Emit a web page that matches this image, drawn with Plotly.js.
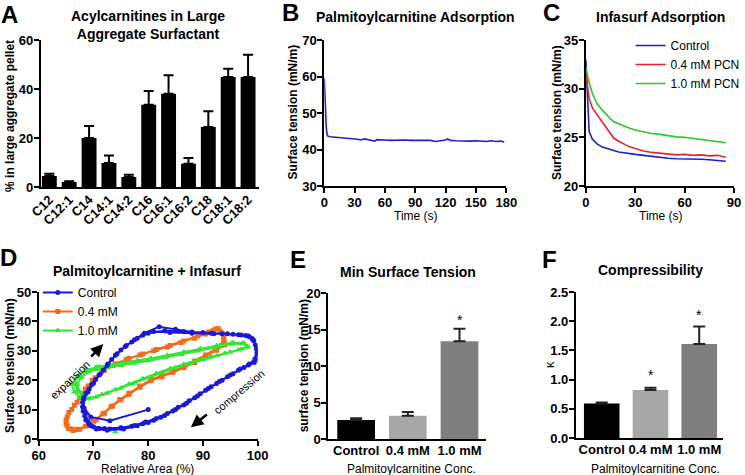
<!DOCTYPE html>
<html><head><meta charset="utf-8">
<script src="https://cdn.plot.ly/plotly-3.0.1.min.js"></script>
<style>html,body{margin:0;padding:0;background:#fff}#chart{width:745px;height:475px}</style>
</head><body><div id="chart"></div>
<script>
// ---------- Panel A: acylcarnitines in large aggregate surfactant ----------
const acylCats = ['C12','C12:1','C14','C14:1','C14:2','C16','C16:1','C16:2','C18','C18:1','C18:2'];
const acylPct  = [4.5, 2.0, 20.0, 9.8, 4.1, 33.6, 38.1, 9.5, 24.5, 44.9, 44.9];
const acylErr  = [0.9, 0.3, 4.9, 3.1, 0.9, 5.6, 7.5, 2.3, 6.4, 3.4, 9.1];

// ---------- Panel B: palmitoylcarnitine adsorption ----------
const pcnTime    = [0,1,2,3,4,6,10,15,20,25,30,33,36,40,45,50,52,55,60,65,70,75,80,85,90,95,100,105,110,115,120,122,125,130,135,140,145,150,155,160,165,170,175,178];
const pcnTension = [59.5,52,46,43.8,43.6,43.5,43.4,43.3,43.2,43.0,43.0,42.8,42.6,42.9,42.6,42.3,42.7,42.6,42.6,42.5,42.6,42.5,42.6,42.5,42.5,42.6,42.4,42.5,42.2,42.4,42.6,42.9,42.5,42.4,42.3,42.4,42.3,42.4,42.3,42.2,42.4,42.2,42.3,42.0];

// ---------- Panel C: Infasurf adsorption ----------
const infTime    = [0,1,2,4,7,10,12,15,17,20,22,25,27,30,35,40,45,50,55,60,65,70,75,80,85];
const infControl = [33.0,29.0,25.6,24.8,24.3,24.0,23.9,23.7,23.6,23.5,23.45,23.4,23.3,23.25,23.15,23.05,22.9,22.85,22.8,22.8,22.75,22.75,22.7,22.65,22.55];
const infPcn04   = [31.6,30.3,29.0,28.0,27.3,26.5,26.1,25.4,24.9,24.6,24.4,24.15,24.0,23.85,23.6,23.45,23.35,23.3,23.2,23.25,23.15,23.2,23.1,23.15,22.95];
const infPcn10   = [32.2,31.4,30.6,29.5,28.4,27.8,27.4,26.9,26.6,26.4,26.2,26.0,25.9,25.75,25.55,25.4,25.3,25.15,25.05,25.0,24.9,24.8,24.7,24.6,24.45];
const infNames   = ['Control','0.4 mM PCN','1.0 mM PCN'];

// ---------- Panel D: surface tension vs relative area loops ----------
const loopNames = ['Control','0.4 mM','1.0 mM'];
const ctrlArea = [80,73,69.5,68.3,68.2,
  69,70,71.2,72.5,74,75.8,77.5,79.3,82,85,88,91.5,94.5,97,98.5,99.3,99.8,100,99.7,
  98.5,96.8,95,93,91,89,87,85,83,81,79,77,75,73,71,69.5,68.6,68.1,68,
  68.6,69.7,71,72.6,74.3,76,78,80,83,86.5,90,93.5,96.5,98.3,99.2,99.8,99.5,
  98.3,96.5,94.5,92.5,90.5,88.5,86.5,84.5,82.3,80,78,75.5,72.5,70.5,69.2,68.4,68,68.2,
  69.2,70.4,71.8,73.3,75,77,79,81,84,88,92,95.5,97.8,99,99.6,99.9,99.4,
  97.5,95.5,93.5,91.5,89.5,87.5,85.5,83.5,81.5,79.5,77.5,75,72,70,69,68.5];
const ctrlTension = [10,6.2,7.5,10.5,13.5,
  16,19,22,25,28.5,31.5,33.8,36,38.2,37.3,36.4,36,35.8,35.4,34.8,33.5,31,29,27,
  25.5,23.8,21.8,19.6,17.2,14.6,12.2,10,8,6.4,5.2,4.3,3.7,3.4,3.6,4.5,6.5,9.5,12.5,
  15.5,18.5,21.8,25.5,29,31.8,34.3,36,36.8,36.6,36.2,35.8,35.5,35,33.6,30.5,27.2,
  25.2,23.4,21.2,18.9,16.6,14,11.6,9.5,7.4,5.6,4.5,3.4,3,3.4,5,7.8,11,14,
  17,20.2,23.5,27,30.3,33,35.3,36.6,36.2,36,35.8,35.6,35.2,34.2,32,29.5,26,
  24.3,22.2,20,17.8,15.4,13,10.8,8.7,7,5.8,4.6,3.8,3.6,4.2,6,8.5];
const pcn04Area = [94,92.5,90.5,88.5,86.5,84.5,82.5,80.5,78.5,76.5,75,73.5,72,70.5,69,67.5,66.3,65.4,65,65.2,66,67,68,
  69,70.3,72,74,76.5,79,81.5,84,86.5,89,91,92.3,93.2,93.8,93.9,
  92.5,90.5,88.5,86.5,84.5,82.5,80.5,78.5,76.5,74.8,73.2,71.7,70,68.5,67,66,65.2,65,65.5,66.5,67.5,
  68.5,69.8,71.5,73.5,76,78.5,81,83.5,86,88.5,90.5,91.8,92.8,93.6,93.8,93.4];
const pcn04Tension = [32,30.2,28,26,24.2,22.6,21.2,19.8,17.6,15.2,13.3,11.2,8.8,6.5,4.6,3.3,2.9,3.6,5.2,7.5,10,12.5,15.5,
  18,20.8,23.4,25.6,27.4,28.9,30.4,31.8,33.3,35,36.4,37.4,36.6,34.6,32.8,
  30.8,28.6,26.5,24.6,23,21.6,20.2,18,15.6,13.4,11,8.5,6,4.3,3.2,3.4,4.5,6.5,9,11.5,14,
  17,20,22.8,25,27,28.6,30,31.3,32.8,34.3,35.7,36.8,37.5,35.8,33.5,31.8];
// first 1.0 mM reading (74 %, 2.5 mN/m) stands alone, then the recorded loops
const pcn10Area = [74,null,68.5,67.5,67,67.8,69,70.5,72.5,75,77.5,80,83,86,89,92,95,97.2,98.2,
  97,95,92.5,90,87.5,85,82.5,80,77.5,75,72.5,70.5,69,67.5,66.5,
  66,67,68.5,70.5,73,75.5,78,80.5,83.5,86.5,89.5,92.5,95.5,97.5,98,
  96.5,94,91.5,89,86.5,84,81.5,79,76.5,74,71.5,69.5,68,67,66.5,67.2,68.8,71];
const pcn10Tension = [2.5,null,14.2,16,18.5,21,22.8,23.6,24.3,25,25.8,26.6,27.6,28.7,29.9,31,32.2,32.5,31.5,
  30.6,29.6,28.3,27,25.6,24.2,22.5,20.8,19,17.3,15.6,14.3,13.6,14.2,16,
  18.5,21,23,24.5,25.2,26,26.8,27.5,28.5,29.6,30.7,31.8,32.8,32.6,31.2,
  30.3,29.2,28,26.8,25.4,24,22.3,20.6,18.7,16.8,15.1,13.9,14.5,16.5,19,21.5,23.6,24.6];

// ---------- Panels E & F ----------
const concCats  = ['Control','0.4 mM','1.0 mM'];
const minST     = [2.6, 3.2, 13.4];
const minSTErr  = [0.25, 0.5, 1.7];
const compKappa = [0.59, 0.82, 1.61];
const compErr   = [0.02, 0.04, 0.30];
const barColors = ['#000000','#a6a6a6','#7f7f7f'];

// ---------- layout helpers ----------
const W = 745, H = 475;
const px = x => x / W, py = y => 1 - y / H;
const FONT = 'Liberation Sans, Arial, Helvetica, sans-serif';
function axis(extra) {
  return Object.assign({
    showline: true, linecolor: '#000', linewidth: 2,
    ticks: 'outside', ticklen: 5, tickwidth: 2, tickcolor: '#000',
    showgrid: false, zeroline: false, fixedrange: true, ticklabelstandoff: -2,
    tickfont: {family: FONT, size: 13, color: '#000', weight: 'bold'}
  }, extra);
}
function txt(x, y, text, o) {
  o = o || {};
  return {xref: 'paper', yref: 'paper', x: px(x), y: py(y), text: text, showarrow: false,
    xanchor: o.xa || 'center', yanchor: o.ya || 'middle', textangle: o.angle || 0, borderpad: 0,
    font: {family: FONT, size: o.size || 12, color: '#000', weight: o.bold ? 'bold' : 'normal'}};
}

const blue = '#1f1fc8', red = '#e0262a', greenC = '#2cc52c';
const dBlue = '#1a1ad6', dOrange = '#f26b1d', dGreen = '#33e633';

const traces = [
  {type: 'bar', x: acylCats, y: acylPct, width: 0.75, marker: {color: '#000'}, xaxis: 'x', yaxis: 'y', showlegend: false,
   error_y: {type: 'data', symmetric: false, array: acylErr, arrayminus: acylErr.map(() => 0), color: '#000', thickness: 2, width: 5}},
  {type: 'scatter', mode: 'lines', x: pcnTime, y: pcnTension, line: {color: blue, width: 1.6}, xaxis: 'x2', yaxis: 'y2', showlegend: false},
  {type: 'scatter', mode: 'lines', name: infNames[0], x: infTime, y: infControl, line: {color: blue, width: 1.6}, xaxis: 'x3', yaxis: 'y3', legend: 'legend'},
  {type: 'scatter', mode: 'lines', name: infNames[1], x: infTime, y: infPcn04, line: {color: red, width: 1.6}, xaxis: 'x3', yaxis: 'y3', legend: 'legend'},
  {type: 'scatter', mode: 'lines', name: infNames[2], x: infTime, y: infPcn10, line: {color: greenC, width: 1.6}, xaxis: 'x3', yaxis: 'y3', legend: 'legend'},
  {type: 'scatter', mode: 'lines+markers', name: loopNames[1], legendrank: 2, x: pcn04Area, y: pcn04Tension, line: {color: dOrange, width: 2},
   marker: {symbol: 'square', size: 5, color: dOrange}, xaxis: 'x4', yaxis: 'y4', legend: 'legend2'},
  {type: 'scatter', mode: 'lines+markers', name: loopNames[2], legendrank: 3, x: pcn10Area, y: pcn10Tension, line: {color: dGreen, width: 2},
   marker: {symbol: 'triangle-up', size: 6, color: dGreen}, xaxis: 'x4', yaxis: 'y4', legend: 'legend2'},
  {type: 'scatter', mode: 'lines+markers', name: loopNames[0], legendrank: 1, x: ctrlArea, y: ctrlTension, line: {color: dBlue, width: 2},
   marker: {symbol: 'circle', size: 5, color: dBlue}, xaxis: 'x4', yaxis: 'y4', legend: 'legend2'},
  {type: 'bar', x: concCats, y: minST, width: 0.73, marker: {color: barColors}, xaxis: 'x5', yaxis: 'y5', showlegend: false,
   error_y: {type: 'data', symmetric: false, array: minSTErr, arrayminus: minSTErr.map(() => 0), color: '#222', thickness: 2, width: 6}},
  {type: 'bar', x: concCats, y: compKappa, width: 0.73, marker: {color: barColors}, xaxis: 'x6', yaxis: 'y6', showlegend: false,
   error_y: {type: 'data', symmetric: false, array: compErr, arrayminus: compErr.map(() => 0), color: '#222', thickness: 2, width: 6}}
];

const legendBase = {xanchor: 'left', yanchor: 'top', bgcolor: 'rgba(0,0,0,0)', borderwidth: 0, tracegroupgap: 0,
  itemclick: false, itemdoubleclick: false, font: {family: FONT, size: 12, color: '#000'}};

const layout = {
  width: W, height: H, margin: {l: 0, r: 0, t: 0, b: 0}, paper_bgcolor: '#fff', plot_bgcolor: 'rgba(0,0,0,0)',
  font: {family: FONT, size: 12, color: '#000'},
  legend: Object.assign({}, legendBase, {x: px(634), y: py(31)}),
  legend2: Object.assign({}, legendBase, {x: px(38), y: py(278), traceorder: 'normal'}),
  xaxis:  axis({domain: [px(41), px(260)], anchor: 'y', type: 'category', range: [-0.43, 10.53], ticks: '', tickangle: -45}),
  yaxis:  axis({domain: [py(187), py(40)], anchor: 'x', range: [0, 60], dtick: 20}),
  xaxis2: axis({domain: [px(326), px(509)], anchor: 'y2', range: [0, 180], dtick: 30}),
  yaxis2: axis({domain: [py(186), py(40)], anchor: 'x2', range: [30, 70], dtick: 10}),
  xaxis3: axis({domain: [px(589), px(738)], anchor: 'y3', range: [0, 90], dtick: 30}),
  yaxis3: axis({domain: [py(186), py(40)], anchor: 'x3', range: [20, 35], dtick: 5}),
  xaxis4: axis({domain: [px(39), px(259)], anchor: 'y4', range: [60, 100], dtick: 10}),
  yaxis4: axis({domain: [py(439), py(292)], anchor: 'x4', range: [0, 50], dtick: 10}),
  xaxis5: axis({domain: [px(330), px(489)], anchor: 'y5', type: 'category', range: [-0.54, 2.52], ticks: ''}),
  yaxis5: axis({domain: [py(439), py(293)], anchor: 'x5', range: [0, 20], dtick: 5}),
  xaxis6: axis({domain: [px(579), px(727)], anchor: 'y6', type: 'category', range: [-0.53, 2.49], ticks: ''}),
  yaxis6: axis({domain: [py(438), py(292)], anchor: 'x6', range: [0, 2.5], dtick: 0.5, tickformat: '.1f'}),
  annotations: [
    // panel letters
    txt(10, 14, 'A', {size: 24, bold: true}),
    txt(292, 12, 'B', {size: 24, bold: true}),
    txt(554, 12, 'C', {size: 24, bold: true}),
    txt(9, 257, 'D', {size: 24, bold: true}),
    txt(300, 259, 'E', {size: 24, bold: true}),
    txt(552, 259, 'F', {size: 24, bold: true}),
    // panel titles
    txt(149, 25, 'Acylcarnitines in Large<br>Aggregate Surfactant', {size: 14, bold: true}),
    txt(418, 17, 'Palmitoylcarnitine Adsorption', {size: 14, bold: true}),
    txt(664, 17, 'Infasurf Adsorption', {size: 14, bold: true}),
    txt(148, 271, 'Palmitoylcarnitine + Infasurf', {size: 14, bold: true}),
    txt(410, 272, 'Min Surface Tension', {size: 14, bold: true}),
    txt(654, 270, 'Compressibility', {size: 14, bold: true}),
    // y axis titles
    txt(10, 116, '% in large aggregate pellet', {angle: -90, bold: true}),
    txt(295, 112, 'Surface tension (mN/m)', {angle: -90, bold: true}),
    txt(560, 112, 'Surface tension (mN/m)', {angle: -90, bold: true}),
    txt(10, 365, 'Surface tension (mN/m)', {angle: -90, bold: true}),
    txt(306, 366, 'surface tension (mN/m)', {angle: -90, bold: true}),
    txt(552, 365, 'κ', {angle: -90, size: 13}),
    // x axis titles
    txt(418, 216, 'Time (s)'),
    txt(665, 216, 'Time (s)'),
    txt(148, 469, 'Relative Area (%)'),
    txt(414, 469, 'Palmitoylcarnitine Conc.'),
    txt(659, 469, 'Palmitoylcarnitine Conc.'),
    // panel D annotations
    txt(70, 380, 'expansion', {angle: -44, size: 11}),
    txt(240, 392, 'compression', {angle: -40, size: 11}),
    {xref: 'x4', yref: 'y4', axref: 'x4', ayref: 'y4', x: 71.8, y: 32.3, ax: 69.3, ay: 27.5, text: '', showarrow: true,
     arrowhead: 2, arrowsize: 1, arrowwidth: 2.5, arrowcolor: '#000'},
    {xref: 'x4', yref: 'y4', axref: 'x4', ayref: 'y4', x: 87.8, y: 4.0, ax: 91.0, ay: 8.75, text: '', showarrow: true,
     arrowhead: 2, arrowsize: 1, arrowwidth: 2.5, arrowcolor: '#000'},
    // significance asterisks
    txt(462, 320, '*', {size: 14}),
    txt(655, 375, '*', {size: 14}),
    txt(703, 315, '*', {size: 14})
  ]
};

Plotly.newPlot('chart', traces, layout, {staticPlot: true, displayModeBar: false});
</script></body></html>
